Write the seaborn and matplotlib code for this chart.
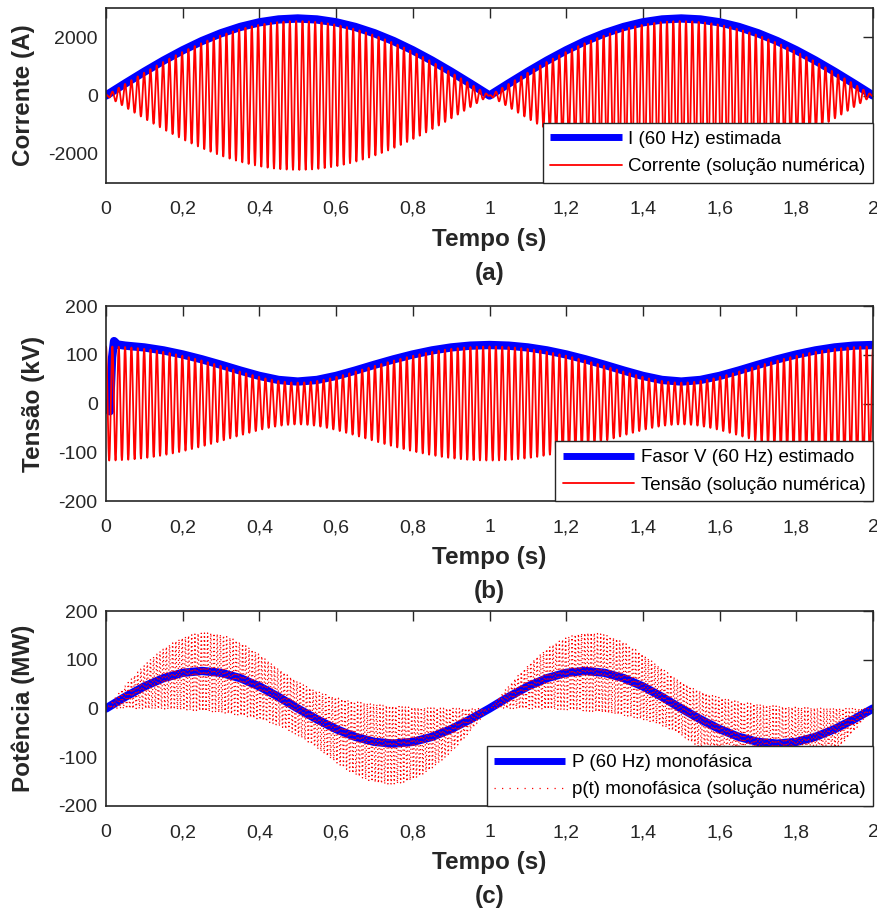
import numpy as np
import pandas as pd
import matplotlib
matplotlib.use("Agg")
import matplotlib.pyplot as plt
import seaborn as sns

# ---------------- data ----------------
# blue estimated phasor magnitudes, sampled every 0.05 s
t_est = [0.00, 0.05, 0.10, 0.15, 0.20, 0.25, 0.30, 0.35, 0.40, 0.45,
         0.50, 0.55, 0.60, 0.65, 0.70, 0.75, 0.80, 0.85, 0.90, 0.95,
         1.00, 1.05, 1.10, 1.15, 1.20, 1.25, 1.30, 1.35, 1.40, 1.45,
         1.50, 1.55, 1.60, 1.65, 1.70, 1.75, 1.80, 1.85, 1.90, 1.95, 2.00]

i_est = [0, 414, 818, 1202, 1556, 1873, 2142, 2358, 2518, 2616,
         2650, 2616, 2518, 2358, 2142, 1873, 1556, 1202, 818, 414,
         0, 414, 818, 1202, 1556, 1873, 2142, 2358, 2518, 2616,
         2650, 2616, 2518, 2358, 2142, 1873, 1556, 1202, 818, 414, 0]

# voltage phasor (kV), with the start-up transient of the estimator
t_v_est = [0.000, 0.004, 0.010, 0.016, 0.021, 0.030, 0.050, 0.10, 0.15, 0.20,
           0.25, 0.30, 0.35, 0.40, 0.45, 0.50, 0.55, 0.60, 0.65, 0.70,
           0.75, 0.80, 0.85, 0.90, 0.95, 1.00, 1.05, 1.10, 1.15, 1.20,
           1.25, 1.30, 1.35, 1.40, 1.45, 1.50, 1.55, 1.60, 1.65, 1.70,
           1.75, 1.80, 1.85, 1.90, 1.95, 2.00]
v_est = [0, -12, -16, 95, 128, 121, 118.7, 115.0, 108.9, 100.6,
         90.6, 79.4, 67.6, 56.6, 48.3, 45.0, 48.3, 56.6, 67.6, 79.4,
         90.6, 100.6, 108.9, 115.0, 118.7, 120.0, 118.7, 115.0, 108.9, 100.6,
         90.6, 79.4, 67.6, 56.6, 48.3, 45.0, 48.3, 56.6, 67.6, 79.4,
         90.6, 100.6, 108.9, 115.0, 118.7, 120.0]

# single-phase power (MW)
p_est = [0, 23.8, 45.3, 62.3, 73.2, 77.0, 73.2, 62.3, 45.3, 23.8,
         0, -22.2, -42.3, -58.2, -68.5, -72.0, -68.5, -58.2, -42.3, -22.2,
         0, 23.8, 45.3, 62.3, 73.2, 77.0, 73.2, 62.3, 45.3, 23.8,
         0, -22.2, -42.3, -58.2, -68.5, -72.0, -68.5, -58.2, -42.3, -22.2, 0]

# parameters of the numerical solution (red curves)
F_NOMINAL = 60.0      # Hz
F_SLIP = 1.0          # Hz, beat between the two sources
I_PEAK = 2560.0       # A, max current amplitude
V_SRC_A = 80.0        # kV, voltage phasor components
V_SRC_B = 37.0        # kV
FS = 6000.0           # sampling of the numerical solution
T_END = 2.0

x_ticks = [0, 0.2, 0.4, 0.6, 0.8, 1.0, 1.2, 1.4, 1.6, 1.8, 2.0]
x_ticklabels = ["0", "0,2", "0,4", "0,6", "0,8", "1", "1,2", "1,4", "1,6", "1,8", "2"]

# ---------------- numerical solution ----------------
t = np.arange(0, T_END + 1 / FS / 2, 1 / FS)
theta = 2 * np.pi * F_SLIP * t
carrier = np.exp(1j * 2 * np.pi * F_NOMINAL * t)
I_ph = 1j * (I_PEAK / 2) * (1 - np.exp(1j * theta))
V_ph = V_SRC_A + V_SRC_B * np.exp(1j * theta)
i_num = np.real(I_ph * carrier)
v_num = np.real(V_ph * carrier)
p_num = v_num * i_num / 1000.0

df_num = pd.DataFrame({"t": t, "i": i_num, "v": v_num, "p": p_num})

# ---------------- figure ----------------
sns.set_theme(style="white")
plt.rcParams["font.family"] = ["Liberation Sans", "DejaVu Sans"]
plt.rcParams["axes.unicode_minus"] = False

W, H = 877, 909
fig = plt.figure(figsize=(W / 100, H / 100), dpi=100)


def add_axes_px(left, top, right, bottom):
    return fig.add_axes([left / W, 1 - bottom / H, (right - left) / W, (bottom - top) / H])


ax_a = add_axes_px(106, 8.3, 873, 182.7)
ax_b = add_axes_px(106, 306, 873, 501)
ax_c = add_axes_px(106, 611, 873, 806)

BLUE = (0, 0, 1)
RED = (1, 0, 0)
DARK = "#262626"
DOTS = (0, (1, 2.2))

# (a) current
sns.lineplot(x=t_est, y=i_est, ax=ax_a, color=BLUE, linewidth=6.0,
             label="I (60 Hz) estimada", estimator=None, sort=False)
sns.lineplot(data=df_num, x="t", y="i", ax=ax_a, color=RED, linewidth=1.3,
             label="Corrente (solução numérica)", estimator=None, sort=False)
ax_a.set_ylim(-3000, 3000)
ax_a.set_yticks([-2000, 0, 2000])
ax_a.set_ylabel("Corrente (A)")

# (b) voltage
sns.lineplot(x=t_v_est, y=v_est, ax=ax_b, color=BLUE, linewidth=6.0,
             label="Fasor V (60 Hz) estimado", estimator=None, sort=False)
sns.lineplot(data=df_num, x="t", y="v", ax=ax_b, color=RED, linewidth=1.3,
             label="Tensão (solução numérica)", estimator=None, sort=False)
ax_b.set_ylim(-200, 200)
ax_b.set_yticks([-200, -100, 0, 100, 200])
ax_b.set_ylabel("Tensão (kV)")

# (c) power
sns.lineplot(x=t_est, y=p_est, ax=ax_c, color=BLUE, linewidth=6.0,
             label="P (60 Hz) monofásica", estimator=None, sort=False)
sns.lineplot(data=df_num, x="t", y="p", ax=ax_c, color=RED, linewidth=0.9,
             linestyle=DOTS, label="p(t) monofásica (solução numérica)",
             estimator=None, sort=False)
ax_c.set_ylim(-200, 200)
ax_c.set_yticks([-200, -100, 0, 100, 200])
ax_c.set_ylabel("Potência (MW)")

ylabel_x = {ax_a: (35 - 106) / 767, ax_b: (45 - 106) / 767, ax_c: (35 - 106) / 767}
axes_height = {ax_a: 174.4, ax_b: 195, ax_c: 195}
panel_tag = {ax_a: "(a)", ax_b: "(b)", ax_c: "(c)"}

for ax in (ax_a, ax_b, ax_c):
    ax.set_xlim(0, 2)
    ax.set_xticks(x_ticks)
    ax.set_xticklabels(x_ticklabels)
    ax.tick_params(axis="both", direction="in", length=7, width=1.0,
                   top=True, right=True, labelsize=14, colors=DARK,
                   labelcolor=DARK)
    ax.tick_params(axis="x", pad=13)
    ax.tick_params(axis="y", pad=6)
    for s in ax.spines.values():
        s.set_linewidth(1.2)
        s.set_color(DARK)
        s.set_visible(True)
    ax.set_xlabel("Tempo (s)", fontsize=17.5, fontweight="bold", color=DARK)
    ax.yaxis.label.set_fontsize(17.5)
    ax.yaxis.label.set_fontweight("bold")
    ax.yaxis.label.set_color(DARK)
    ax.yaxis.set_label_coords(ylabel_x[ax], 0.5)
    ax.xaxis.set_label_coords(0.5, -(45) / axes_height[ax])
    ax.text(0.5, -(79) / axes_height[ax], panel_tag[ax], transform=ax.transAxes,
            ha="center", va="top", fontsize=17.5, fontweight="bold", color=DARK)
    leg = ax.legend(loc="lower right", borderaxespad=0, fontsize=13.5,
                    frameon=True, fancybox=False, framealpha=1,
                    handlelength=3.8, handletextpad=0.35, labelspacing=0.55,
                    borderpad=0.4)
    leg.get_frame().set_edgecolor(DARK)
    leg.get_frame().set_linewidth(1.0)
    for txt in leg.get_texts():
        txt.set_color("black")
    lines = leg.get_lines()
    lines[0].set_solid_capstyle("butt")
    lines[0].set_linewidth(5.0)

ax_c.get_legend().get_lines()[1].set_linestyle((0, (1, 5)))

fig.savefig("out.png", dpi=100, facecolor="white")
